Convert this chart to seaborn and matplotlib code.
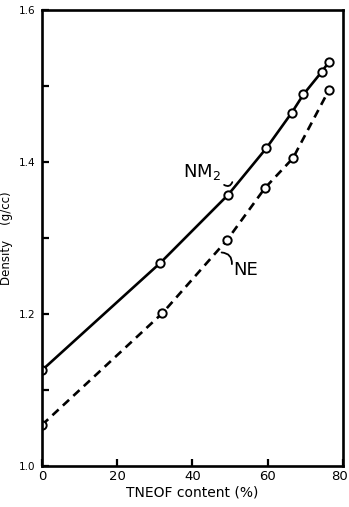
import matplotlib
matplotlib.use("Agg")
import matplotlib.pyplot as plt
import matplotlib.transforms as mtransforms
import seaborn as sns
import pandas as pd

# ---- data ----
tneof_nm2 = [0, 31.4, 49.5, 59.6, 66.4, 69.5, 74.4, 76.3]
density_nm2 = [1.126, 1.267, 1.357, 1.418, 1.465, 1.489, 1.519, 1.532]
tneof_ne = [0, 32.0, 49.3, 59.3, 66.7, 76.3]
density_ne = [1.054, 1.201, 1.298, 1.366, 1.405, 1.495]

x_ticks = [0, 20, 40, 60, 80]
y_ticks = [1.0, 1.2, 1.4, 1.6]
y_tick_labels = ["1.0", "1.2", "1.4", "1.6"]
y_minor = [1.1, 1.3, 1.5]

df_nm2 = pd.DataFrame({"x": tneof_nm2, "y": density_nm2})
df_ne = pd.DataFrame({"x": tneof_ne, "y": density_ne})

sns.set_style("ticks")
plt.rcParams["font.family"] = ["DejaVu Sans"]
plt.rcParams["text.color"] = "black"
plt.rcParams["axes.labelcolor"] = "black"
plt.rcParams["xtick.color"] = "black"
plt.rcParams["ytick.color"] = "black"

fig = plt.figure(figsize=(3.49, 5.07), dpi=100)
ax = fig.add_axes([0.1203, 0.0809, 0.8625, 0.8994])

mk = dict(marker="o", markersize=6, markerfacecolor="white",
          markeredgecolor="black", markeredgewidth=1.4)
sns.lineplot(data=df_nm2, x="x", y="y", ax=ax, color="black",
             linewidth=1.9, linestyle="-", sort=False, **mk)
sns.lineplot(data=df_ne, x="x", y="y", ax=ax, color="black",
             linewidth=1.9, linestyle=(0, (3.2, 2.2)), sort=False, **mk)

ax.set_xlim(0, 80)
ax.set_ylim(1.0, 1.6)
ax.set_xticks(x_ticks)
ax.set_xticklabels([str(v) for v in x_ticks], fontsize=9.5)
ax.set_yticks(y_ticks)
ax.set_yticklabels(y_tick_labels, fontsize=7.5)
ax.set_yticks(y_minor, minor=True)
ax.tick_params(axis="both", which="both", direction="in", width=1.6,
               color="black", labelcolor="black")
ax.tick_params(axis="y", which="major", length=5, pad=5)
ax.tick_params(axis="y", which="minor", length=5)
ax.tick_params(axis="x", which="major", length=5, pad=3)
for s in ax.spines.values():
    s.set_linewidth(1.9)
    s.set_color("black")

# keep the last x tick label inside the figure
last = ax.get_xticklabels()[-1]
last.set_horizontalalignment("right")
last.set_transform(last.get_transform() +
                   mtransforms.ScaledTranslation(5 / 100, 0, fig.dpi_scale_trans))

ax.set_xlabel("TNEOF content (%)", fontsize=10, labelpad=2, color="black")
ax.set_ylabel("Density    (g/cc)", fontsize=8.5, labelpad=4, color="black")

# curve labels
ax.text(37.5, 1.380, "NM$_2$", fontsize=13, ha="left", va="baseline",
        color="black")
ax.annotate("", xy=(50.8, 1.377), xytext=(47.8, 1.372),
            arrowprops=dict(arrowstyle="-", lw=1.3, color="black",
                            connectionstyle="arc3,rad=0.8"))
ax.text(50.8, 1.251, "NE", fontsize=13, ha="left", va="baseline",
        color="black")
ax.annotate("", xy=(47.0, 1.281), xytext=(50.4, 1.262),
            arrowprops=dict(arrowstyle="-", lw=1.3, color="black",
                            connectionstyle="arc3,rad=0.6"))

fig.savefig("out.png", dpi=100)
